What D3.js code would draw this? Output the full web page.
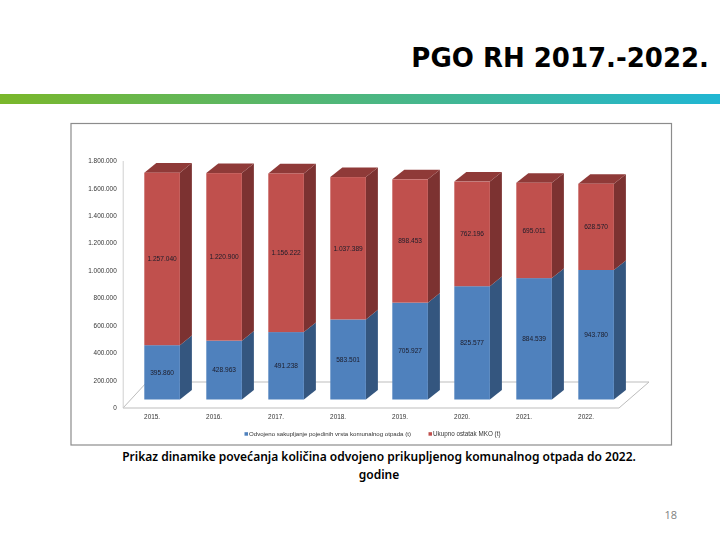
<!DOCTYPE html>
<html><head><meta charset="utf-8">
<script src="https://cdn.jsdelivr.net/npm/d3@7/dist/d3.min.js"></script>
<style>html,body{margin:0;padding:0;background:#fff}svg{display:block}text{font-family:"Liberation Sans",sans-serif}</style>
</head><body><div id="c"></div>
<script>
const years = ["2015.","2016.","2017.","2018.","2019.","2020.","2021.","2022."];
const separated = [395860,428963,491238,583501,705927,825577,884539,943780];
const remainder = [1257040,1220900,1156222,1037389,898453,762196,695011,628570];
const tickValues = [0,200000,400000,600000,800000,1000000,1200000,1400000,1600000,1800000];
const seriesNames = ["Odvojeno sakupljanje pojedinih vrsta komunalnog otpada (t)","Ukupno ostatak MKO (t)"];
const titleText = "PGO RH 2017.-2022.";
const captionLines = ["Prikaz dinamike povećanja količina odvojeno prikupljenog komunalnog otpada do 2022.","godine"];
const pageNumber = "18";

const fmt = v => String(v).replace(/\B(?=(\d{3})+(?!\d))/g,".");
const svg = d3.select("#c").append("svg").attr("width",720).attr("height",540);
const defs = svg.append("defs");
const g = defs.append("linearGradient").attr("id","band");
g.append("stop").attr("offset","0").attr("stop-color","#7ab72a");
g.append("stop").attr("offset","1").attr("stop-color","#20b6d3");
defs.append("filter").attr("id","soft").append("feGaussianBlur").attr("stdDeviation",0.3);

svg.append("text").attr("x",709).attr("y",66.5).attr("text-anchor","end")
  .style("font-family","'DejaVu Sans'").style("font-weight",700).style("font-size","26px").attr("fill","#000").text(titleText);
svg.append("rect").attr("x",0).attr("y",94).attr("width",720).attr("height",10).attr("fill","url(#band)");

svg.append("rect").attr("x",71).attr("y",123.5).attr("width",600.5).attr("height",321.5)
  .attr("fill","#fff").attr("stroke","#8c8c8c").attr("stroke-width",1.2);

const DX = 12, DY = 9.6;
const y = d3.scaleLinear().domain([0,1800000]).range([407.5,160.5]);
const barY = v => y(v) - 8;
const x = d3.scaleBand().domain(years).range([144.3,613.9]).paddingInner(0.426).paddingOuter(0);

// floor
svg.append("path").attr("d",d3.line()([[123,408],[619,408],[649,382],[147,382]])+"Z")
  .attr("fill","#fff").attr("stroke","#bdbdbd").attr("stroke-width",1);

// axis
const axis = d3.axisLeft(y).tickValues(tickValues).tickFormat(fmt).tickSize(0).tickPadding(6);
const ax = svg.append("g").attr("transform","translate(122.7,0)").call(axis);
ax.select(".domain").attr("stroke","#d0d0d0");
ax.selectAll("text").style("font-size","6.4px").attr("fill","#333").attr("filter","url(#soft)");

const cols = {blue:["#4f81bd","#5f8dc4","#34567f"],red:["#c0504d","#8f3a38","#7c3231"]};
const poly = d3.line();
function drawSeg(yr,lo,hi,c,showTop){
  const x0=x(yr), x1=x0+x.bandwidth(), yb=barY(lo), yt=barY(hi);
  const gg=svg.append("g");
  gg.append("path").attr("d",poly([[x1,yb],[x1+DX,yb-DY],[x1+DX,yt-DY],[x1,yt]])+"Z").attr("fill",c[2]);
  if(showTop) gg.append("path").attr("d",poly([[x0,yt],[x0+DX,yt-DY],[x1+DX,yt-DY],[x1,yt]])+"Z").attr("fill",c[1]);
  gg.append("rect").attr("x",x0).attr("y",yt).attr("width",x.bandwidth()).attr("height",yb-yt).attr("fill",c[0]);
}
years.forEach((yr,i)=>{
  const a=separated[i], b=remainder[i];
  drawSeg(yr,0,a,cols.blue,false);
  drawSeg(yr,a,a+b,cols.red,true);
  const cx=x(yr)+x.bandwidth()/2;
  const lab=(v,yy)=>svg.append("text").attr("x",cx).attr("y",yy).attr("text-anchor","middle").attr("dy","0.35em")
    .style("font-size","6.6px").attr("fill","#1c1c2a").attr("filter","url(#soft)").text(fmt(v));
  lab(a,barY(a/2)); lab(b,barY(a+b/2));
  svg.append("text").attr("x",cx-10).attr("y",417).attr("text-anchor","middle").attr("dy","0.35em")
    .style("font-size","6.4px").attr("fill","#333").attr("filter","url(#soft)").text(yr);
});

// legend
const lg=svg.append("g");
lg.append("rect").attr("x",244.5).attr("y",432.2).attr("width",3.5).attr("height",3.5).attr("fill",cols.blue[0]);
lg.append("text").attr("x",249).attr("y",434).attr("dy","0.35em").style("font-size","6.1px").attr("fill","#333").attr("filter","url(#soft)").text(seriesNames[0]);
lg.append("rect").attr("x",428.5).attr("y",432.2).attr("width",3.5).attr("height",3.5).attr("fill",cols.red[0]);
lg.append("text").attr("x",433).attr("y",434).attr("dy","0.35em").style("font-size","6.3px").attr("fill","#333").attr("filter","url(#soft)").text(seriesNames[1]);

// caption
captionLines.forEach((t,i)=>svg.append("text").attr("x",379).attr("y",461+i*17.5).attr("text-anchor","middle")
  .style("font-family","'Noto Sans'").style("font-weight",600).style("font-size","12px").attr("fill","#000").text(t));
svg.append("text").attr("x",677).attr("y",519).attr("text-anchor","end").style("font-family","'Open Sans'").style("font-size","11px").attr("fill","#808080").text(pageNumber);
</script></body></html>
